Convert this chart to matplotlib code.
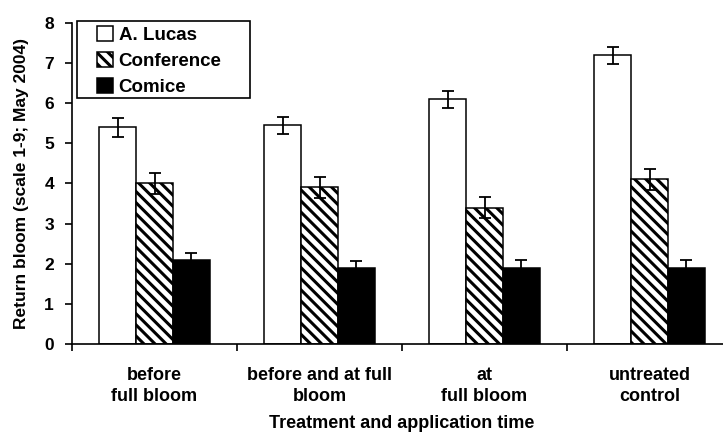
import numpy as np
import matplotlib.pyplot as plt
from matplotlib.patches import Rectangle

plt.rcParams['font.family'] = ['Liberation Sans', 'DejaVu Sans']
plt.rcParams['font.weight'] = 'bold'
plt.rcParams['hatch.linewidth'] = 2.2

treatments = ['before\nfull bloom', 'before and at full\nbloom', 'at\nfull bloom', 'untreated\ncontrol']
cultivars = ['A. Lucas', 'Conference', 'Comice']

lucas = [5.4, 5.45, 6.1, 7.2]
lucas_err = [0.23, 0.22, 0.22, 0.22]
conference = [4.0, 3.9, 3.4, 4.1]
conference_err = [0.25, 0.25, 0.26, 0.26]
comice = [2.1, 1.9, 1.9, 1.9]
comice_err = [0.17, 0.17, 0.18, 0.18]

W, H = 723, 432
fig = plt.figure(figsize=(W / 100, H / 100), dpi=100)
ax = fig.add_axes([0.0996, 0.2044, 660 / W, 0.7417])

x = np.arange(len(treatments))
w = 0.224
styles = [
    dict(facecolor='white', hatch=None),
    dict(facecolor='white', hatch='\\\\\\'),
    dict(facecolor='black', hatch=None),
]
for i, (vals, errs, lab, st) in enumerate(zip([lucas, conference, comice],
                                               [lucas_err, conference_err, comice_err],
                                               cultivars, styles)):
    ax.bar(x + (i - 1) * w, vals, w, label=lab, edgecolor='black', linewidth=1.1,
           yerr=errs, capsize=4.5, error_kw=dict(ecolor='black', elinewidth=1.3, capthick=1.3),
           **st)

ax.set_xlim(-0.5, 3.5)
ax.set_ylim(0, 8)
ax.set_yticks(range(9))
ax.set_xticks(x)
ax.set_xticklabels(treatments, fontsize=13, linespacing=1.3)
ax.set_xticks(np.arange(-0.5, 4.0, 1.0), minor=True)
ax.tick_params(axis='x', which='major', length=0, pad=17)
ax.tick_params(axis='x', which='minor', length=5, width=1.2)
ax.tick_params(axis='y', length=5, width=1.2, labelsize=12.5, pad=8)
for s in ['top', 'right']:
    ax.spines[s].set_visible(False)
for s in ['left', 'bottom']:
    ax.spines[s].set_linewidth(1.2)

ax.set_ylabel('Return bloom (scale 1-9; May 2004)', fontsize=12.5, fontweight='bold', labelpad=11)
ax.set_xlabel('Treatment and application time', fontsize=13, fontweight='bold', labelpad=7)

# legend entries without frame, with a wider box drawn around them
ax.legend(loc='upper left', bbox_to_anchor=(97 / W, 1 - 26 / H), bbox_transform=fig.transFigure,
          fontsize=13.5, frameon=False, handlelength=0.85, handleheight=0.85,
          handletextpad=0.3, borderpad=0.0, labelspacing=0.42, borderaxespad=0.0)
fig.add_artist(Rectangle((77 / W, 1 - 98 / H), 173 / W, 77 / H, transform=fig.transFigure,
                         facecolor='none', edgecolor='black', linewidth=1.2))

fig.savefig('out.png', dpi=100)
